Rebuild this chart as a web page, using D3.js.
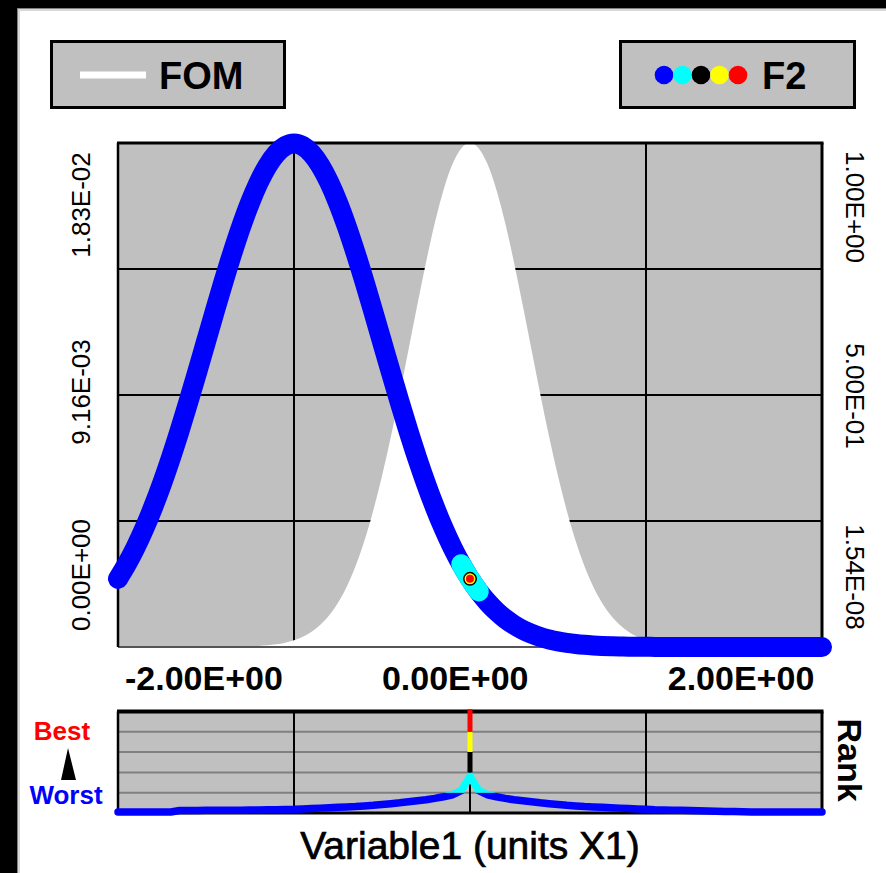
<!DOCTYPE html>
<html>
<head>
<meta charset="utf-8">
<script src="https://cdn.jsdelivr.net/npm/d3@7"></script>
<style>
  html, body { margin: 0; padding: 0; background: #000; }
  svg { display: block; }
  text { font-family: "Liberation Sans", Arial, Helvetica, sans-serif; }
</style>
</head>
<body>
<svg id="chart" width="886" height="873"></svg>
<script>
// ---- data ----------------------------------------------------------------
// Sample positions of Variable1 (step 0.05 from -2 to 2)
const xSamples = d3.range(81).map(i => Math.round((-2 + i * 0.05) * 100) / 100);

// F2 response (left axis)
const f2Values = [
  0.002477, 0.003010, 0.003622, 0.004314, 0.005088, 0.005941, 0.006868, 0.007861,
  0.008908, 0.009993, 0.011100, 0.012206, 0.013289, 0.014323, 0.015285, 0.016150,
  0.016893, 0.017495, 0.017938, 0.018209, 0.018300,
  0.018209, 0.017938, 0.017495, 0.016893, 0.016150, 0.015285, 0.014323, 0.013289,
  0.012206, 0.011100, 0.009993, 0.008908, 0.007861, 0.006868, 0.005941, 0.005088,
  0.004314, 0.003622, 0.003010, 0.002477,
  0.002018, 0.001627, 0.001299, 0.001027, 0.000804, 0.000623, 0.000478, 0.000363,
  0.000273, 0.000203, 0.000150, 0.000109, 0.000079, 0.000057, 0.000040, 0.000028,
  0.000020, 0.000013, 0.000009, 0.000006,
  0.000004, 0.000003, 0.000002, 0.000001, 0.000001, 0.000001, 0, 0, 0, 0,
  0, 0, 0, 0, 0, 0, 0, 0, 0, 0
];

// Figure of merit (right axis)
const fomValues = [
  1.54e-8, 7.2e-8, 1.66e-7, 3.7e-7, 8.2e-7, 1.77e-6, 3.7e-6, 7.7e-6, 1.55e-5, 3.07e-5,
  5.94e-5, 1.12e-4, 0.00021, 0.00038, 0.00067, 0.00116, 0.00197, 0.00328, 0.00534, 0.00849,
  0.01323, 0.02017, 0.03010, 0.04394, 0.06277, 0.08778, 0.12012, 0.16083, 0.21075, 0.27026,
  0.33914, 0.41648, 0.50056, 0.58870, 0.67756, 0.76314, 0.84113, 0.90726, 0.95767, 0.98925,
  1.0,
  0.98925, 0.95767, 0.90726, 0.84113, 0.76314, 0.67756, 0.58870, 0.50056, 0.41648, 0.33914,
  0.27026, 0.21075, 0.16083, 0.12012, 0.08778, 0.06277, 0.04394, 0.03010, 0.02017, 0.01323,
  0.00849, 0.00534, 0.00328, 0.00197, 0.00116, 0.00067, 0.00038, 0.00021, 1.12e-4, 5.94e-5,
  3.07e-5, 1.55e-5, 7.7e-6, 3.7e-6, 1.77e-6, 8.2e-7, 3.7e-7, 1.66e-7, 7.2e-8, 1.54e-8
];

// Rank of each sample (0 = worst, 5 = best)
const rankValues = [
  0.05, 0.05, 0.05, 0.05, 0.05, 0.05, 0.05,
  0.12, 0.12, 0.12, 0.13, 0.13, 0.13, 0.14, 0.14, 0.15, 0.15, 0.16, 0.16, 0.17,
  0.18, 0.20, 0.22, 0.24, 0.26, 0.28, 0.30, 0.32, 0.35, 0.38,
  0.42, 0.46, 0.50, 0.55, 0.60, 0.65, 0.72, 0.80, 0.90, 1.10,
  1.80,
  1.10, 0.90, 0.80, 0.72, 0.65, 0.60, 0.55, 0.50, 0.46, 0.42,
  0.38, 0.35, 0.32, 0.30, 0.28, 0.26, 0.24, 0.22, 0.20, 0.18,
  0.16, 0.15, 0.14, 0.13, 0.12, 0.11, 0.10, 0.09, 0.08, 0.07,
  0.06, 0.05, 0.05, 0.05, 0.05, 0.05, 0.05, 0.05, 0.05, 0.05
];

// Best design point
const bestPoint = { x: 0, rank: 5 };

const xDomain = [-2, 2];
const f2Domain = [0, 0.01832];
const fomDomain = [1.54e-8, 1];
const rankDomain = [0, 5];
const rankColors = ["#0000ff", "#00ffff", "#000000", "#ffff00", "#ff0000"];
const legendLabels = ["FOM", "F2"];
const axisTitle = "Variable1 (units X1)";

// ---- layout --------------------------------------------------------------
const W = 886, H = 873;
const plot = { left: 118, right: 822, top: 143, bottom: 647 };
const rankBox = { top: 711.5, bottom: 813 };
const gray = "#c0c0c0";

const svg = d3.select("#chart");

const x = d3.scaleLinear().domain(xDomain).range([plot.left, plot.right]);
const yL = d3.scaleLinear().domain(f2Domain).range([plot.bottom, plot.top]);
const yR = d3.scaleLinear().domain(fomDomain).range([plot.bottom, plot.top]);
const yRank = d3.scaleLinear().domain(rankDomain).range([rankBox.bottom, rankBox.top]);

function sci(v) {
  const [m, e] = v.toExponential(2).split("e");
  const n = Math.abs(+e);
  return m + "E" + (e[0] === "-" ? "-" : "+") + String(n).padStart(2, "0");
}

// ---- frame ---------------------------------------------------------------
svg.append("rect").attr("width", W).attr("height", H).attr("fill", "#000");
svg.append("rect").attr("x", 17).attr("y", 8).attr("width", W - 17).attr("height", H - 8).attr("fill", "#808080");
svg.append("rect").attr("x", 18).attr("y", 9).attr("width", W - 18).attr("height", H - 9).attr("fill", "#d8d8d8");
svg.append("rect").attr("x", 20).attr("y", 11).attr("width", W - 20).attr("height", H - 11).attr("fill", "#fff");

// ---- legend --------------------------------------------------------------
const legFom = svg.append("g");
legFom.append("rect").attr("x", 51.5).attr("y", 41.5).attr("width", 233).attr("height", 66)
  .attr("fill", gray).attr("stroke", "#000").attr("stroke-width", 3);
legFom.append("line").attr("x1", 80).attr("x2", 146).attr("y1", 75).attr("y2", 75)
  .attr("stroke", "#fff").attr("stroke-width", 7);
legFom.append("text").attr("x", 159).attr("y", 89).attr("font-size", 38).attr("font-weight", "bold")
  .attr("fill", "#000").text(legendLabels[0]);

const legF2 = svg.append("g");
legF2.append("rect").attr("x", 620.5).attr("y", 41.5).attr("width", 234).attr("height", 66)
  .attr("fill", gray).attr("stroke", "#000").attr("stroke-width", 3);
legF2.selectAll("circle").data(rankColors).join("circle")
  .attr("cx", (d, i) => 664 + i * 18.5).attr("cy", 75).attr("r", 9.3).attr("fill", d => d);
legF2.append("text").attr("x", 762).attr("y", 89).attr("font-size", 38).attr("font-weight", "bold")
  .attr("fill", "#000").text(legendLabels[1]);

// ---- main plot -----------------------------------------------------------
svg.append("rect").attr("x", plot.left).attr("y", plot.top)
  .attr("width", plot.right - plot.left).attr("height", plot.bottom - plot.top).attr("fill", gray);

const gridX = [-1, 0, 1];
const gridY = [0.25, 0.5, 0.75].map(f => f2Domain[0] + f * (f2Domain[1] - f2Domain[0]));
svg.append("g").selectAll("line").data(gridX).join("line")
  .attr("x1", d => x(d)).attr("x2", d => x(d)).attr("y1", plot.top).attr("y2", plot.bottom)
  .attr("stroke", "#000").attr("stroke-width", 2);
svg.append("g").selectAll("line").data(gridY).join("line")
  .attr("x1", plot.left).attr("x2", plot.right).attr("y1", d => yL(d)).attr("y2", d => yL(d))
  .attr("stroke", "#000").attr("stroke-width", 2);

// FOM as filled white area
const fomArea = d3.area()
  .x((d, i) => x(xSamples[i]))
  .y0(plot.bottom)
  .y1(d => yR(d))
  .curve(d3.curveMonotoneX);
svg.append("path").datum(fomValues).attr("d", fomArea).attr("fill", "#fff");

// plot borders
svg.append("line").attr("x1", plot.left).attr("x2", plot.right).attr("y1", plot.bottom).attr("y2", plot.bottom)
  .attr("stroke", "#555").attr("stroke-width", 2);
svg.append("line").attr("x1", plot.left).attr("x2", plot.left).attr("y1", plot.top).attr("y2", plot.bottom)
  .attr("stroke", "#000").attr("stroke-width", 2.5);
svg.append("line").attr("x1", plot.right).attr("x2", plot.right).attr("y1", plot.top).attr("y2", plot.bottom)
  .attr("stroke", "#000").attr("stroke-width", 3);
svg.append("line").attr("x1", plot.left - 1).attr("x2", plot.right + 1.5).attr("y1", plot.top).attr("y2", plot.top)
  .attr("stroke", "#000").attr("stroke-width", 3);

// F2 curve coloured by rank band
const f2Stroke = 20;
const f2Line = d3.line()
  .x(d => x(d.x))
  .y(d => yL(d.v))
  .curve(d3.curveMonotoneX);
const f2Points = xSamples.map((xv, i) => ({ x: xv, v: f2Values[i], r: rankValues[i] }));
svg.append("path").datum(f2Points).attr("d", f2Line)
  .attr("fill", "none").attr("stroke", rankColors[0]).attr("stroke-width", f2Stroke)
  .attr("stroke-linecap", "round").attr("stroke-linejoin", "round");

for (let b = 1; b < rankColors.length; b++) {
  const runs = [];
  let cur = [];
  f2Points.forEach(p => {
    if (p.r >= b) cur.push(p);
    else if (cur.length) { runs.push(cur); cur = []; }
  });
  if (cur.length) runs.push(cur);
  runs.forEach(run => {
    svg.append("path").datum(run.length > 1 ? run : [run[0], run[0]]).attr("d", f2Line)
      .attr("fill", "none").attr("stroke", rankColors[b]).attr("stroke-width", f2Stroke)
      .attr("stroke-linecap", "round").attr("stroke-linejoin", "round");
  });
}

// best point marker (concentric dots for each rank band it reaches)
const bestIdx = xSamples.indexOf(bestPoint.x);
const bestRadii = [10, 10, 7, 5.5, 4];
const bestBands = d3.range(1, Math.ceil(bestPoint.rank));
svg.append("g").selectAll("circle").data(bestBands).join("circle")
  .attr("cx", x(bestPoint.x)).attr("cy", yL(f2Values[bestIdx]))
  .attr("r", b => bestRadii[b]).attr("fill", b => rankColors[b]);

// ---- axis labels ---------------------------------------------------------
const xLabelFrac = [0.122, 0.479, 0.885];
const xLabelVals = [xDomain[0], (xDomain[0] + xDomain[1]) / 2, xDomain[1]];
svg.append("g").selectAll("text").data(xLabelVals).join("text")
  .attr("x", (d, i) => plot.left + xLabelFrac[i] * (plot.right - plot.left))
  .attr("y", 690)
  .attr("text-anchor", "middle").attr("font-size", 34).attr("font-weight", "bold").attr("fill", "#000")
  .text(d => sci(d));

const leftVals = [f2Domain[1], (f2Domain[0] + f2Domain[1]) / 2, f2Domain[0]];
const leftY = [205, 392, 575];
svg.append("g").selectAll("text").data(leftVals).join("text")
  .attr("transform", (d, i) => `translate(81,${leftY[i]}) rotate(-90)`)
  .attr("text-anchor", "middle").attr("dominant-baseline", "central")
  .attr("font-size", 26).attr("fill", "#000").text(d => sci(d));

const rightVals = [fomDomain[1], (fomDomain[0] + fomDomain[1]) / 2, fomDomain[0]];
const rightY = [207, 396, 577];
svg.append("g").selectAll("text").data(rightVals).join("text")
  .attr("transform", (d, i) => `translate(855,${rightY[i]}) rotate(90)`)
  .attr("text-anchor", "middle").attr("dominant-baseline", "central")
  .attr("font-size", 26).attr("fill", "#000").text(d => sci(d));

// ---- rank panel ----------------------------------------------------------
svg.append("rect").attr("x", plot.left).attr("y", rankBox.top)
  .attr("width", plot.right - plot.left).attr("height", rankBox.bottom - rankBox.top).attr("fill", gray);
svg.append("g").selectAll("line").data([1, 2, 3, 4]).join("line")
  .attr("x1", plot.left).attr("x2", plot.right).attr("y1", d => yRank(d)).attr("y2", d => yRank(d))
  .attr("stroke", "#808080").attr("stroke-width", 2);
svg.append("g").selectAll("line").data(gridX).join("line")
  .attr("x1", d => x(d)).attr("x2", d => x(d)).attr("y1", rankBox.top).attr("y2", rankBox.bottom)
  .attr("stroke", "#000").attr("stroke-width", 2);
svg.append("line").attr("x1", plot.left - 1).attr("x2", plot.right + 1.5).attr("y1", rankBox.top).attr("y2", rankBox.top)
  .attr("stroke", "#000").attr("stroke-width", 4);
svg.append("line").attr("x1", plot.left - 1).attr("x2", plot.right + 1.5).attr("y1", rankBox.bottom).attr("y2", rankBox.bottom)
  .attr("stroke", "#000").attr("stroke-width", 3);
svg.append("line").attr("x1", plot.left).attr("x2", plot.left).attr("y1", rankBox.top).attr("y2", rankBox.bottom)
  .attr("stroke", "#000").attr("stroke-width", 2.5);
svg.append("line").attr("x1", plot.right).attr("x2", plot.right).attr("y1", rankBox.top).attr("y2", rankBox.bottom)
  .attr("stroke", "#000").attr("stroke-width", 3);

// clip regions, one per rank band
const defs = svg.append("defs");
const nb = rankColors.length;
const bandTop = b => b === nb - 1 ? yRank(b + 1) - 20 : yRank(b + 1);
const bandBottom = b => b === 0 ? yRank(b) + 20 : yRank(b);
defs.selectAll("clipPath").data(d3.range(nb)).join("clipPath")
  .attr("id", b => "rank-band-" + b)
  .append("rect")
  .attr("x", 0).attr("width", W)
  .attr("y", b => bandTop(b))
  .attr("height", b => bandBottom(b) - bandTop(b));

const rankLine = d3.line().x(d => x(d.x)).y(d => yRank(d.r));
d3.range(nb).forEach(b => {
  const g = svg.append("g").attr("clip-path", `url(#rank-band-${b})`);
  g.append("path").datum(f2Points).attr("d", rankLine)
    .attr("fill", "none").attr("stroke", rankColors[b]).attr("stroke-width", 7.5)
    .attr("stroke-linecap", "round").attr("stroke-linejoin", "round");
  g.append("line")
    .attr("x1", x(bestPoint.x)).attr("x2", x(bestPoint.x))
    .attr("y1", yRank(rankValues[bestIdx])).attr("y2", yRank(bestPoint.rank))
    .attr("stroke", rankColors[b]).attr("stroke-width", 5).attr("stroke-linecap", "square");
});

// rank annotations
svg.append("text").attr("x", 62).attr("y", 740).attr("text-anchor", "middle")
  .attr("font-size", 26).attr("font-weight", "bold").attr("fill", "#ff0000").text("Best");
svg.append("path").attr("d", "M68,748 L61,780 L76,780 Z").attr("fill", "#000");
svg.append("text").attr("x", 66).attr("y", 804).attr("text-anchor", "middle")
  .attr("font-size", 26).attr("font-weight", "bold").attr("fill", "#0000ff").text("Worst");
svg.append("text").attr("transform", "translate(850,760) rotate(90)")
  .attr("text-anchor", "middle").attr("dominant-baseline", "central")
  .attr("font-size", 34).attr("font-weight", "bold").attr("fill", "#000").text("Rank");

// axis title
svg.append("text").attr("x", 470).attr("y", 859).attr("text-anchor", "middle")
  .attr("font-size", 39).attr("fill", "#000").attr("stroke", "#000").attr("stroke-width", 0.7)
  .text(axisTitle);
</script>
</body>
</html>
